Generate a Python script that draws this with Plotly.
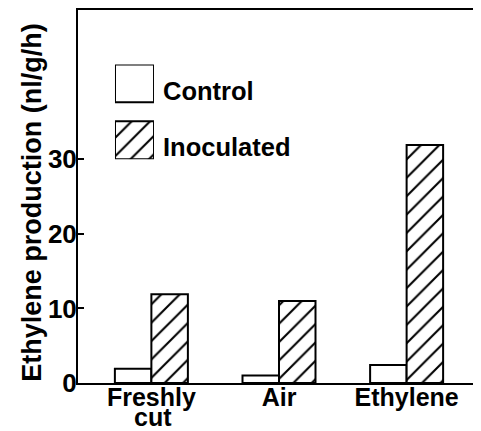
import plotly.graph_objects as go

categories = ["Freshly cut", "Air", "Ethylene"]
tick_labels = ["Freshly", "Air", "Ethylene"]
sub_label = "cut"
control = [1.9, 1.0, 2.4]
inoculated = [11.9, 11.0, 31.9]
y_ticks = [0, 10, 20, 30]
legend_names = ["Control", "Inoculated"]

FONT = "Liberation Sans, Arial, sans-serif"
BLACK = "black"
HATCH = dict(size=13, solidity=0.16, fgcolor=BLACK, fgopacity=1,
             bgcolor="white", fillmode="overlay")

fig = go.Figure()

fig.add_trace(go.Bar(
    x=categories, y=control, name="Control",
    marker=dict(color="white", line=dict(color=BLACK, width=2)),
    showlegend=False,
))
fig.add_trace(go.Bar(
    x=categories, y=inoculated, name="Inoculated",
    marker=dict(color="white", line=dict(color=BLACK, width=2),
                pattern=dict(shape="/", **HATCH)),
    showlegend=False,
))

# legend swatches drawn as bars on a small hidden axis
fig.add_trace(go.Bar(
    x=[1, 1], y=legend_names, orientation="h", width=0.667,
    xaxis="x2", yaxis="y2",
    marker=dict(color="white", line=dict(color=BLACK, width=2),
                pattern=dict(shape=["", "/"], **HATCH)),
    showlegend=False, hoverinfo="skip",
))

# page body has an 8px margin, so the figure is laid out 8px smaller
fig.update_layout(
    width=473, height=423,
    margin=dict(l=70, r=1, t=2, b=48, autoexpand=False),
    paper_bgcolor="white", plot_bgcolor="white",
    font=dict(family=FONT, size=25, color=BLACK, weight="bold"),
    barmode="group", bargap=0.428, bargroupgap=0,
    xaxis=dict(
        type="category", range=[-0.575, 2.575], automargin=False,
        tickvals=categories, ticktext=tick_labels,
        showline=True, linecolor=BLACK, linewidth=2, mirror=True,
        ticks="", showgrid=False, zeroline=False,
        tickfont=dict(size=25, family=FONT, weight="bold"),
        ticklabelstandoff=-9,
    ),
    yaxis=dict(
        range=[0, 50], tickvals=y_ticks, ticktext=[str(v) for v in y_ticks],
        automargin=False,
        showline=True, linecolor=BLACK, linewidth=2, mirror="ticks",
        ticks="inside", ticklen=6, tickwidth=1.5, tickcolor=BLACK,
        showgrid=False, zeroline=False,
        tickfont=dict(size=26, family=FONT, weight="bold"),
        ticklabelstandoff=-6,
    ),
    xaxis2=dict(domain=[0.092, 0.189], range=[0, 1], anchor="y2", visible=False),
    yaxis2=dict(domain=[0.600, 0.854], type="category", range=[1.333, -0.333],
                anchor="x2", visible=False),
    annotations=[
        dict(text="Ethylene production (nl/g/h)", textangle=-90,
             xref="paper", yref="paper", x=-0.1144, y=0.483,
             xanchor="center", yanchor="middle", showarrow=False,
             font=dict(size=27, family=FONT, weight="bold")),
        dict(text=sub_label, xref="x", yref="paper", x=categories[0], y=0,
             xanchor="center", yanchor="top", yshift=-18, xshift=2, showarrow=False,
             font=dict(size=25, family=FONT, weight="bold")),
        dict(text=legend_names[0], xref="paper", yref="paper", x=0.206, y=0.783,
             xanchor="left", yanchor="middle", showarrow=False,
             font=dict(size=25.5, family=FONT, weight="bold")),
        dict(text=legend_names[1], xref="paper", yref="paper", x=0.206, y=0.632,
             xanchor="left", yanchor="middle", showarrow=False,
             font=dict(size=25.5, family=FONT, weight="bold")),
    ],
)

fig.write_html("out.html")
